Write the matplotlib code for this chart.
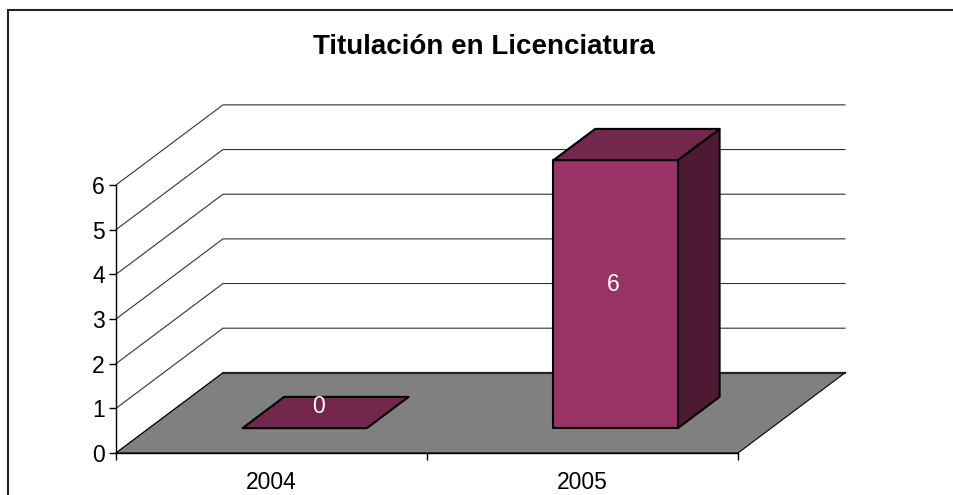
import matplotlib
matplotlib.use("Agg")
import matplotlib.pyplot as plt
from matplotlib.patches import Polygon, Rectangle

plt.rcParams['font.family'] = ['Liberation Sans', 'DejaVu Sans']

years = ["2004", "2005"]
values = [0, 6]
yticks = [0, 1, 2, 3, 4, 5, 6]
title = "Titulación en Licenciatura"

# oblique depth offset (in data units of the front plane)
DX, DY = 0.344, 1.794
d0, d1 = 0.31, 0.70     # bar depth range
bw = 0.40               # bar width in category units

front_col = "#993366"
top_col = "#73274c"
side_col = "#4c1a32"
floor_col = "#808080"

W, H = 954, 495
fig = plt.figure(figsize=(W / 100, H / 100), dpi=100)
ax = fig.add_axes([116 / W, (H - 453) / H, 622 / W, 268 / H])
ax.set_xlim(0, 2)
ax.set_ylim(0, 6)
ax.patch.set_visible(False)
for s in ["top", "right"]:
    ax.spines[s].set_visible(False)
for s in ["left", "bottom"]:
    ax.spines[s].set_linewidth(1.0)
    ax.spines[s].set_zorder(6)


def P(x, d, v):
    return (x + d * DX, v + d * DY)


# walls: gridlines on side and back wall
for v in yticks:
    a, b, c = P(0, 0, v), P(0, 1, v), P(2, 1, v)
    col = "black" if v in (0,) else "#333333"
    ax.plot([a[0], b[0], c[0]], [a[1], b[1], c[1]], color=col, lw=0.8,
            clip_on=False, zorder=1)

# floor
floor = Polygon([P(0, 0, 0), P(2, 0, 0), P(2, 1, 0), P(0, 1, 0)], closed=True,
                facecolor=floor_col, edgecolor="black", lw=0.8, clip_on=False, zorder=2)
ax.add_patch(floor)
ax.plot([P(0, 1, 0)[0], P(2, 1, 0)[0]], [P(0, 1, 0)[1], P(2, 1, 0)[1]],
        color="#222222", lw=1.6, clip_on=False, zorder=2)

# bars
for i, h in enumerate(values):
    xl, xr = i + 0.5 - bw / 2, i + 0.5 + bw / 2
    kw = dict(closed=True, edgecolor="black", lw=1.5, clip_on=False,
              joinstyle="round", zorder=3)
    if h > 0:
        ax.add_patch(Polygon([P(xr, d0, 0), P(xr, d1, 0), P(xr, d1, h), P(xr, d0, h)],
                             facecolor=side_col, **kw))
        ax.add_patch(Polygon([P(xl, d0, 0), P(xr, d0, 0), P(xr, d0, h), P(xl, d0, h)],
                             facecolor=front_col, **kw))
    ax.add_patch(Polygon([P(xl, d0, h), P(xr, d0, h), P(xr, d1, h), P(xl, d1, h)],
                         facecolor=top_col, **kw))
    if h > 0:
        lx, ly = P(i + 0.5, 0.29, h / 2 + 0.25)
    else:
        lx, ly = P(i + 0.5, 0.435, 0.25)
    ax.text(lx, ly, str(h), color="white", fontsize=16.5, ha="center",
            va="center", zorder=5)

# axes ticks
ax.set_yticks(yticks)
ax.set_yticklabels([str(v) for v in yticks], fontsize=16.5)
ax.tick_params(axis="y", direction="out", length=5, width=1, pad=3)
ax.set_xticks([0, 1, 2])
ax.set_xticklabels(["", "", ""])
ax.set_xticks([0.5, 1.5], minor=True)
ax.set_xticklabels(years, minor=True, fontsize=16.5)
ax.tick_params(axis="x", which="major", direction="out", length=5, width=1)
ax.tick_params(axis="x", which="minor", length=0, pad=13)

fig.text(484 / W, 1 - 47 / H, title, fontsize=20, fontweight="bold",
         ha="center", va="center")

# chart frame
fig.patches.append(Rectangle((8 / W, -0.1), 1.2, 1.1 - 10 / H, transform=fig.transFigure,
                             fill=False, edgecolor="#222222", lw=1.5))

fig.savefig("out.png", dpi=100)
